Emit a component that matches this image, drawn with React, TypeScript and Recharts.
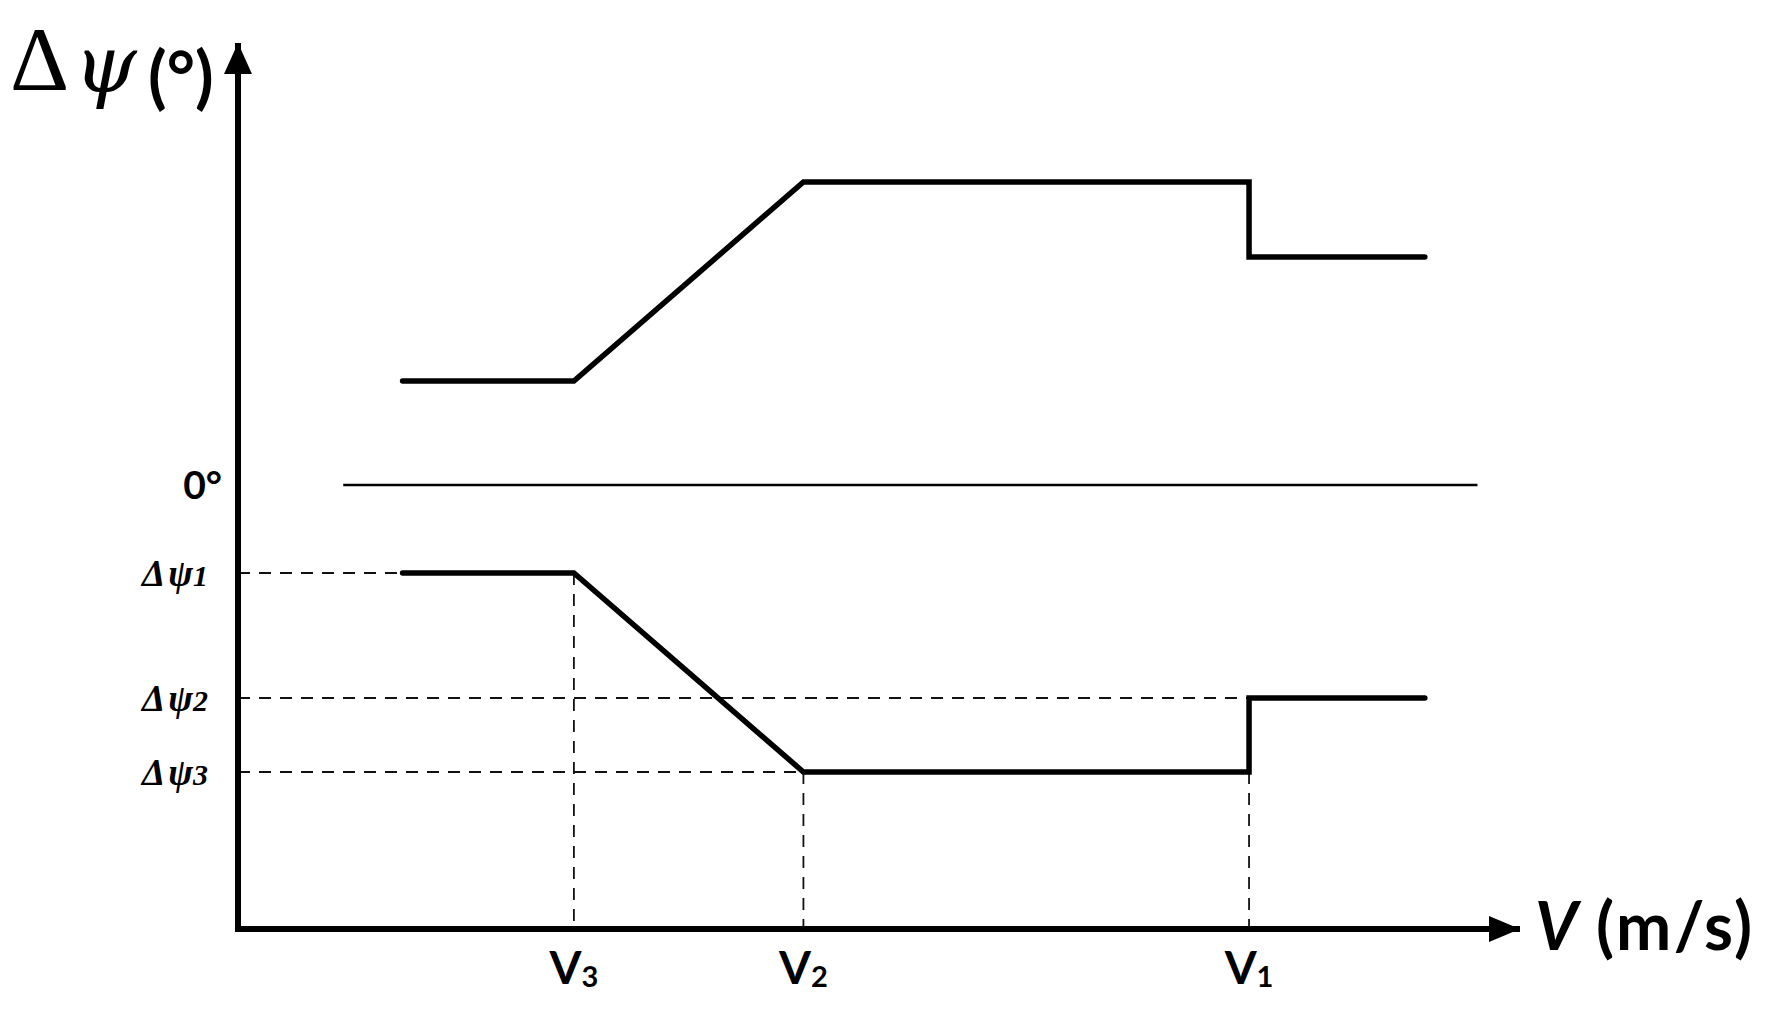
import { LineChart, Line, XAxis, YAxis, ReferenceLine, ReferenceDot } from 'recharts'

const W = 1776
const H = 1015

// schematic units (speed along V, heading error in deg)
const speedBreaks = [1.47, 3.0, 5.05, 9.03, 9.03, 10.6]
const upperPsi    = [10.4, 10.4, 30.3, 30.3, 22.8, 22.8]
const lowerPsi    = [-8.8, -8.8, -28.7, -28.7, -21.3, -21.3]

const speedTicks    = [3.0, 5.05, 9.03]
const speedTickSubs = ['3', '2', '1']

const psiTicks      = [0, -8.8, -21.3, -28.7]
const psiTickSubs   = ['', '1', '2', '3']

const zeroSpan = [0.94, 11.07]

const X_DOMAIN: [number, number] = [0, 11.45]
const Y_DOMAIN: [number, number] = [-44.4, 44.2]

const upperData = speedBreaks.map((x, i) => ({ x, y: upperPsi[i] }))
const lowerData = speedBreaks.map((x, i) => ({ x, y: lowerPsi[i] }))

// dashed guides from the axes to the break points
const hGuides = [
  { y: lowerPsi[0], to: speedBreaks[0] },
  { y: lowerPsi[4], to: speedTicks[2] },
  { y: lowerPsi[2], to: speedTicks[1] },
]
const vGuides = [
  { x: speedTicks[0], from: lowerPsi[0] },
  { x: speedTicks[1], from: lowerPsi[2] },
  { x: speedTicks[2], from: lowerPsi[2] },
]

const SANS = 'Lato, "Open Sans", sans-serif'
const SERIF = '"Liberation Serif", "DejaVu Serif", serif'
const DASH = '12 9'

function SpeedTick({ x, y, payload }: any) {
  const i = speedTicks.indexOf(payload.value)
  return (
    <text x={x} y={y + 55} textAnchor="middle" fontFamily={SANS} fontWeight={700} fontSize={46} fill="#000">
      <tspan>V</tspan>
      <tspan fontSize={29} dy={3}>{speedTickSubs[i]}</tspan>
    </text>
  )
}

function PsiTick({ x, y, payload }: any) {
  const i = psiTicks.indexOf(payload.value)
  if (i === 0) {
    return (
      <text x={x - 16} y={y} dy="0.36em" textAnchor="end" fontFamily={SANS} fontWeight={700} fontSize={39} fill="#000">
        0°
      </text>
    )
  }
  return (
    <text x={x - 30} y={y + 13} textAnchor="end" fontFamily={SERIF} fontStyle="italic" fontWeight={700} fontSize={37} fill="#000">
      <tspan>Δ</tspan>
      <tspan dx={3}>ψ</tspan>
      <tspan fontSize={30}>{psiTickSubs[i]}</tspan>
    </text>
  )
}

const upArrow = (p: any) => <path d={`M${p.cx},${p.cy} l-14,31 l28,0 z`} fill="#000" />
const rightArrow = (p: any) => <path d={`M${p.cx},${p.cy} l-31,-13 l0,26 z`} fill="#000" />
const corner = (p: any) => <rect x={p.cx - 3} y={p.cy - 3} width={6} height={6} fill="#000" />

export default function App() {
  return (
    <div style={{ position: 'absolute', left: 0, top: 0, width: W, height: H, background: '#fff' }}>
      <LineChart width={W} height={H} margin={{ top: 43, right: 256, bottom: 0, left: 0 }}>
        <XAxis
          dataKey="x"
          type="number"
          domain={X_DOMAIN}
          allowDataOverflow
          ticks={speedTicks}
          interval={0}
          height={86}
          tickLine={false}
          tickSize={0}
          tickMargin={0}
          tick={<SpeedTick />}
          axisLine={{ stroke: '#000', strokeWidth: 6 }}
        />
        <YAxis
          type="number"
          domain={Y_DOMAIN}
          allowDataOverflow
          ticks={psiTicks}
          interval={0}
          width={238}
          tickLine={false}
          tickSize={0}
          tickMargin={0}
          tick={<PsiTick />}
          axisLine={{ stroke: '#000', strokeWidth: 6 }}
        />

        {hGuides.map((g, i) => (
          <ReferenceLine
            key={`h${i}`}
            segment={[{ x: 0, y: g.y }, { x: g.to, y: g.y }]}
            stroke="#111"
            strokeWidth={1.8}
            strokeDasharray={DASH}
          />
        ))}
        {vGuides.map((g, i) => (
          <ReferenceLine
            key={`v${i}`}
            segment={[{ x: g.x, y: g.from }, { x: g.x, y: Y_DOMAIN[0] }]}
            stroke="#111"
            strokeWidth={1.8}
            strokeDasharray={DASH}
          />
        ))}

        <ReferenceLine
          segment={[{ x: zeroSpan[0], y: 0 }, { x: zeroSpan[1], y: 0 }]}
          stroke="#000"
          strokeWidth={2.5}
        />

        <Line
          data={upperData}
          dataKey="y"
          type="linear"
          stroke="#000"
          strokeWidth={5.5}
          strokeLinecap="round"
          dot={false}
          activeDot={false}
          isAnimationActive={false}
        />
        <Line
          data={lowerData}
          dataKey="y"
          type="linear"
          stroke="#000"
          strokeWidth={5.5}
          strokeLinecap="round"
          dot={false}
          activeDot={false}
          isAnimationActive={false}
        />

        <ReferenceDot x={0} y={Y_DOMAIN[1]} ifOverflow="visible" shape={upArrow} />
        <ReferenceDot x={X_DOMAIN[1]} y={Y_DOMAIN[0]} ifOverflow="visible" shape={rightArrow} />
        <ReferenceDot x={0} y={Y_DOMAIN[0]} ifOverflow="visible" shape={corner} />
      </LineChart>

      <svg width={W} height={H} style={{ position: 'absolute', left: 0, top: 0, pointerEvents: 'none' }}>
        <text x={10} y={90} fontFamily={SERIF} fontSize={92} fill="#000">Δ</text>
        <text x={74} y={92} fontFamily='"DejaVu Serif", serif' fontStyle="italic" fontSize={80} fill="#000">ψ</text>
        <text x={148} y={101} fontFamily={SANS} fontWeight={700} fontSize={68} fill="#000">(°)</text>
        <text x={1535} y={950} fontFamily={SANS} fontWeight={700} fontStyle="italic" fontSize={66} fill="#000">V</text>
        <text x={1596} y={950} fontFamily={SANS} fontWeight={700} fontSize={66} textLength={156} lengthAdjust="spacing" fill="#000">(m/s)</text>
      </svg>
    </div>
  )
}
